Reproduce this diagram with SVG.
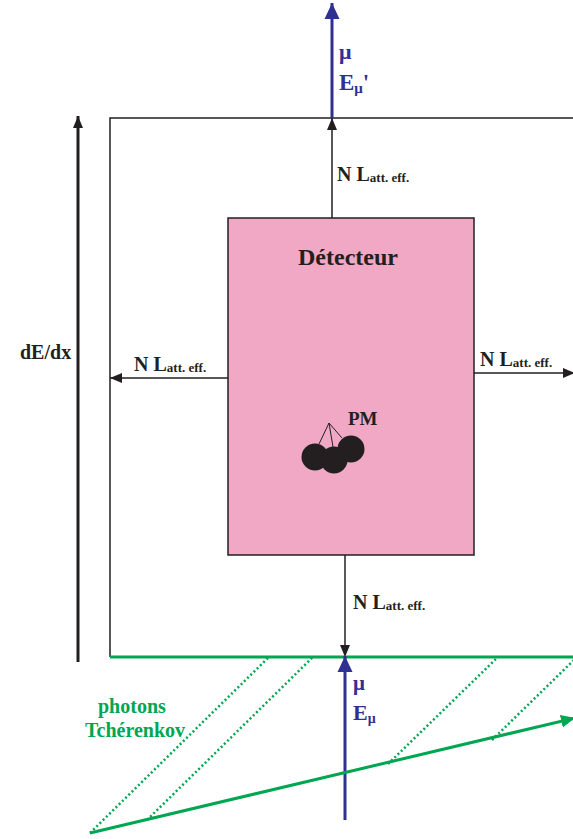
<svg xmlns="http://www.w3.org/2000/svg" width="573" height="839" viewBox="0 0 573 839">
<style>
text{font-family:"Liberation Serif","Times New Roman",serif;font-weight:bold}
.blk{stroke:#231f20;stroke-width:1.5;fill:none}
.lbl{font-size:20px;fill:#231f20}
.sub{font-size:13px}
.blue{fill:#2e3192}
.grn{fill:#00a651}
</style>
<defs>
<marker id="ab" markerWidth="14" markerHeight="12" refX="12" refY="6" orient="auto" markerUnits="userSpaceOnUse"><path d="M0,1 L12,6 L0,11 Z" fill="#231f20"/></marker>
<marker id="abl" markerWidth="18" markerHeight="16" refX="16" refY="8" orient="auto" markerUnits="userSpaceOnUse"><path d="M0,0.5 L16,8 L0,15.5 Z" fill="#2e3192"/></marker>
<marker id="ag" markerWidth="16" markerHeight="14" refX="14" refY="7" orient="auto" markerUnits="userSpaceOnUse"><path d="M0,0.5 L14,7 L0,13.5 Z" fill="#00a651"/></marker>
</defs>
<g id="frame">
<path d="M110,657 L110,118 L575,118" class="blk"/>
</g>
<g id="detecteur">
<rect x="228" y="218" width="246" height="337" fill="#f0a8c4" stroke="#231f20" stroke-width="1.5"/>
<text x="348" y="265" font-size="24" fill="#231f20" text-anchor="middle">Détecteur</text>
</g>
<g id="pm">
<g stroke="#231f20" stroke-width="1">
<line x1="329" y1="423" x2="319" y2="444"/>
<line x1="329" y1="423" x2="333" y2="447"/>
<line x1="329" y1="423" x2="342" y2="438"/>
</g>
<circle cx="351" cy="449" r="13.5" fill="#231f20"/>
<circle cx="315" cy="457" r="13.5" fill="#231f20"/>
<circle cx="334" cy="460" r="13.5" fill="#231f20"/>
<text x="348" y="425" font-size="19" fill="#231f20">PM</text>
</g>
<g id="dEdx">
<text x="20" y="359" font-size="20" fill="#231f20">dE/dx</text>
</g>
<g id="photons">
<text x="98" y="713" font-size="20" class="grn">photons</text>
<text x="85" y="737" font-size="20" class="grn">Tchérenkov</text>
</g>
<g id="mu-labels">
<text x="339" y="59" font-size="22" class="blue">μ</text>
<text x="339" y="90" font-size="23" class="blue">E<tspan font-size="15" dy="3">μ</tspan><tspan dy="-3">'</tspan></text>
<text x="353" y="690" font-size="21" class="blue">μ</text>
<text x="353" y="720" font-size="22" class="blue">E<tspan font-size="14" dy="3">μ</tspan></text>
</g>
<g id="nl-labels">
<text x="337" y="181" class="lbl">N L<tspan class="sub" dy="1">att. eff.</tspan></text>
<text x="134" y="371" class="lbl">N L<tspan class="sub" dy="1">att. eff.</tspan></text>
<text x="480" y="366" class="lbl">N L<tspan class="sub" dy="1">att. eff.</tspan></text>
<text x="353" y="609" class="lbl">N L<tspan class="sub" dy="1">att. eff.</tspan></text>
</g>
<g id="connectors">
<line x1="78" y1="662" x2="78" y2="116" stroke="#231f20" stroke-width="3" marker-end="url(#ab)"/>
<line x1="332" y1="118" x2="332" y2="3" stroke="#2e3192" stroke-width="3" marker-end="url(#abl)"/>
<line x1="332" y1="218" x2="332" y2="118" class="blk" marker-end="url(#ab)"/>
<line x1="228" y1="378" x2="110" y2="378" class="blk" marker-end="url(#ab)"/>
<line x1="474" y1="373" x2="575" y2="373" class="blk" marker-end="url(#ab)"/>
<line x1="345" y1="555" x2="345" y2="657" class="blk" marker-end="url(#ab)"/>
<line x1="110" y1="657" x2="575" y2="657" stroke="#00a651" stroke-width="3"/>
<line x1="345" y1="820" x2="345" y2="656" stroke="#2e3192" stroke-width="3" marker-end="url(#abl)"/>
<g stroke="#00a651" stroke-width="2.5" stroke-dasharray="2 2.5" fill="none">
<line x1="90" y1="833" x2="269" y2="657"/>
<line x1="147" y1="820" x2="313" y2="657"/>
<line x1="388" y1="764" x2="498" y2="657"/>
<line x1="492" y1="740" x2="575" y2="659"/>
</g>
<line x1="90" y1="833" x2="575" y2="718" stroke="#00a651" stroke-width="3" marker-end="url(#ag)"/>
</g>
</svg>
